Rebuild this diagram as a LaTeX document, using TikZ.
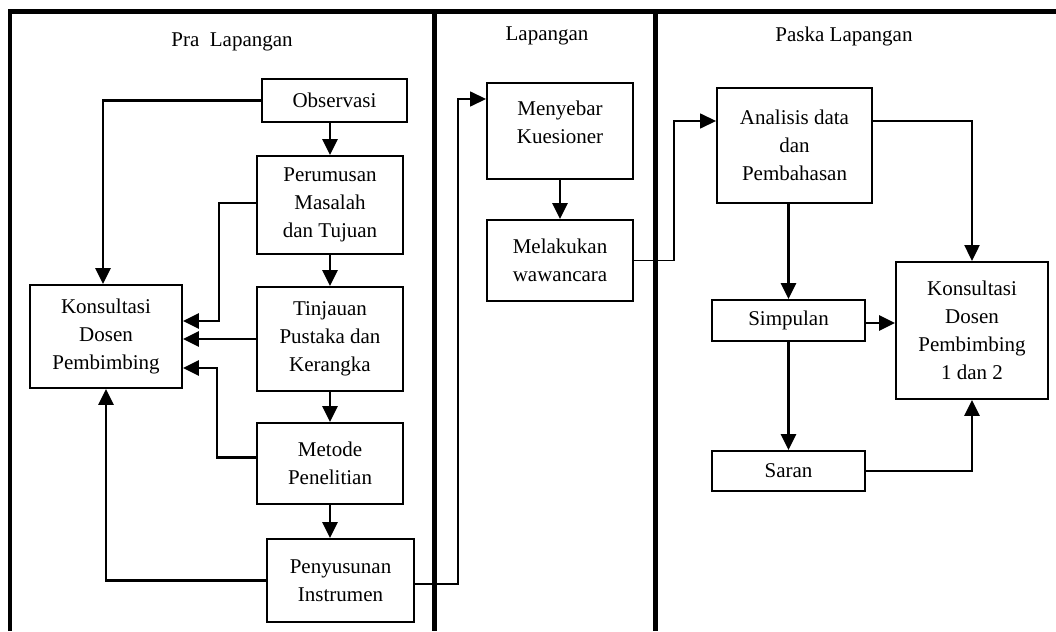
\documentclass[tikz,border=0pt]{standalone}
\usepackage{fontspec}
\setmainfont{Liberation Serif}
\usetikzlibrary{arrows.meta}
\begin{document}
\begin{tikzpicture}[x=1pt,y=-1pt,
 box/.style={draw, line width=1.9pt, inner sep=0pt, align=center, font=\fontsize{21}{28}\selectfont},
 lbl/.style={inner sep=0pt, align=center, font=\fontsize{21}{28}\selectfont},
 arr/.style={line width=2.8pt, -{Triangle[length=16pt,width=15pt]}},
 thinarr/.style={line width=1.5pt, -{Triangle[length=16pt,width=15pt]}},
 framel/.style={line width=4.8pt}]
\useasboundingbox (0,0) rectangle (1056,631);
% frame
\draw[framel] (10,631) -- (10,11.7) -- (1056,11.7);
\draw[framel] (434.5,11.7) -- (434.5,631);
\draw[framel] (655.5,11.7) -- (655.5,631);
% headers
\node[lbl] (h1) at (232,42) {Pra~~Lapangan};
\node[lbl] (h2) at (547,36) {Lapangan};
\node[lbl] (h3) at (844,36) {Paska Lapangan};
% boxes
\node[box, minimum width=145, minimum height=43] (obs) at (334.5,100.5) {Observasi};
\node[box, minimum width=146, minimum height=98] (per) at (330,205) {Perumusan\\Masalah\\dan Tujuan};
\node[box, minimum width=152, minimum height=103] (kon) at (106,336.5) {Konsultasi\\Dosen\\Pembimbing};
\node[box, minimum width=146, minimum height=104] (tin) at (330,339) {Tinjauan\\Pustaka dan\\Kerangka};
\node[box, minimum width=146, minimum height=81] (met) at (330,463.5) {Metode\\Penelitian};
\node[box, minimum width=147, minimum height=83] (pen) at (340.5,580.5) {Penyusunan\\Instrumen};
\node[box, minimum width=146, minimum height=96] (meny) at (560,131) {};
\node[lbl] (menyt) at (560,122.5) {Menyebar\\Kuesioner};
\node[box, minimum width=146, minimum height=81] (mel) at (560,260.5) {Melakukan\\wawancara};
\node[box, minimum width=155, minimum height=115] (ana) at (794.5,145.5) {Analisis data\\dan\\Pembahasan};
\node[box, minimum width=152, minimum height=137] (k2) at (972,330.5) {Konsultasi\\Dosen\\Pembimbing\\1 dan 2};
\node[box, minimum width=153, minimum height=41] (sim) at (788.5,320.5) {Simpulan};
\node[box, minimum width=153, minimum height=40] (sar) at (788.5,471) {Saran};
% connectors
\draw[arr] (obs.west) -| ([xshift=-3pt]kon.north);
\draw[arr] (per.north |- obs.south) -- (per.north);
\draw[arr] (per.south) -- (tin.north);
\draw[arr] ([yshift=2pt]per.west) -- ++(-37,0) |- ([yshift=15.5pt]kon.east);
\draw[arr] (tin.west) -- (tin.west -| kon.east);
\draw[arr] ([yshift=6pt]met.west) -- ++(-39,0) |- ([yshift=-31.5pt]kon.east);
\draw[arr] (tin.south) -- (met.north);
\draw[arr] (met.south) -- (met.south |- pen.north);
\draw[arr] (pen.west) -| (kon.south);
\draw[thinarr] ([yshift=-3.5pt]pen.east) -- ++(43,0) |- ([yshift=32pt]meny.west);
\draw[arr] (meny.south) -- (mel.north);
\draw[thinarr] (mel.east) -- ++(40,0) |- ([yshift=24.5pt]ana.west);
\draw[arr, line width=2.2pt] ([yshift=24.5pt]ana.east) -| (k2.north);
\draw[arr] (sim.north |- ana.south) -- (sim.north);
\draw[arr] ([yshift=-2.5pt]sim.east) -- ([yshift=-2.5pt]sim.east -| k2.west);
\draw[arr] (sim.south) -- (sar.north);
\draw[arr] (sar.east) -| (k2.south);
\end{tikzpicture}
\end{document}
